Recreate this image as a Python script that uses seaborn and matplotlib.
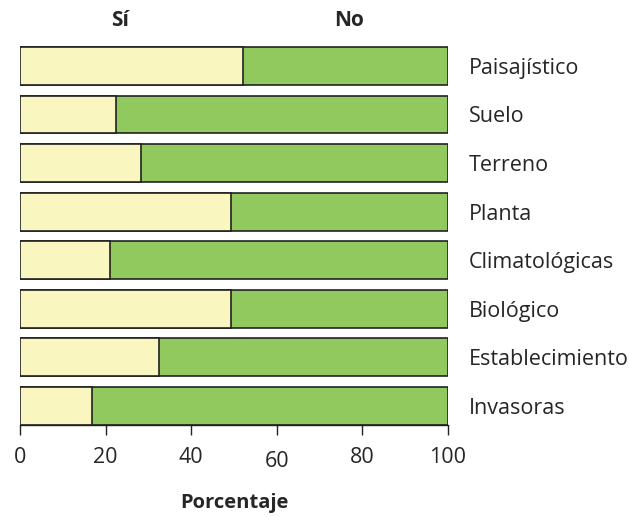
import matplotlib
matplotlib.use("Agg")
import matplotlib.pyplot as plt
import matplotlib.transforms as mtransforms
import seaborn as sns
import pandas as pd

categories = ["Paisajístico", "Suelo", "Terreno", "Planta", "Climatológicas",
              "Biológico", "Establecimiento", "Invasoras"]
si_values = [52.2, 22.5, 28.3, 49.4, 21.1, 49.4, 32.5, 16.9]
no_values = [100 - v for v in si_values]
x_ticks = [0, 20, 40, 60, 80, 100]

sns.set_style("white")
plt.rcParams['font.family'] = ['Open Sans', 'DejaVu Sans']

df = pd.DataFrame({"cat": categories, "si": si_values,
                   "total": [s + n for s, n in zip(si_values, no_values)]})

fig = plt.figure(figsize=(6.29, 5.17), dpi=100)
ax = fig.add_axes([20/629, 1 - 425/517, (448 - 20)/629, (425 - 44)/517])

green = "#92C95F"
yellow = "#FAF6C0"
sns.barplot(data=df, y="cat", x="total", orient="h", color=green, width=0.78,
            edgecolor="#222222", linewidth=1.2, saturation=1, ax=ax)
sns.barplot(data=df, y="cat", x="si", orient="h", color=yellow, width=0.78,
            edgecolor="#222222", linewidth=1.2, saturation=1, ax=ax)

ax.set_xlim(0, 100)
ax.set_ylim(7.39, -0.45)
ax.set_xticks(x_ticks)
ax.set_xticklabels([str(t) for t in x_ticks], fontsize=15.5)
ax.tick_params(axis="x", length=7.2, width=1, color="#222222", pad=8.5, bottom=True)
for lab in ax.get_xticklabels():
    if lab.get_text() == "60":
        lab.set_transform(lab.get_transform() +
                          mtransforms.ScaledTranslation(0, -4/100, fig.dpi_scale_trans))
ax.yaxis.tick_right()
ax.tick_params(axis="y", length=0, pad=15, labelsize=15.5)
for lab in ax.get_yticklabels():
    lab.set_horizontalalignment("left")
ax.set_ylabel("")
ax.set_xlabel("Porcentaje", fontsize=14.5, fontweight="bold", labelpad=15)

for s in ["top", "left", "right"]:
    ax.spines[s].set_visible(False)
ax.spines["bottom"].set_color("#222222")
ax.spines["bottom"].set_linewidth(1)

tr = mtransforms.blended_transform_factory(ax.transData, fig.transFigure)
ax.text(23.4, 1 - 21/517, "Sí", transform=tr,
        ha="center", va="center", fontsize=15, fontweight="bold")
ax.text(77, 1 - 21/517, "No", transform=tr,
        ha="center", va="center", fontsize=15, fontweight="bold")

fig.savefig("out.png", dpi=100)
